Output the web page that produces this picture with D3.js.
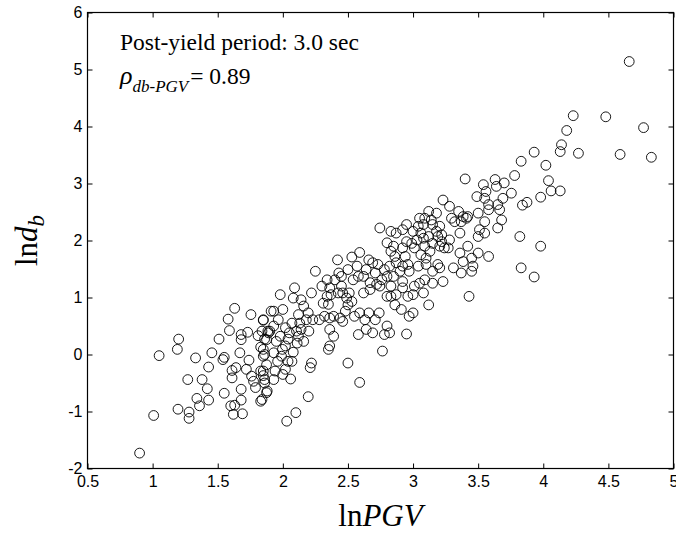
<!DOCTYPE html>
<html><head><meta charset="utf-8">
<script src="https://cdn.jsdelivr.net/npm/d3@7"></script>
<style>body{margin:0;background:#fff}svg{display:block}</style>
</head><body>
<svg id="chart" width="676" height="533"></svg>
<script>
// ln PGV (x) values
const lnPGV = [
  0.90,1.008,1.05,1.195,1.20,1.19,1.28,1.28,1.27,1.33,
  1.34,1.36,1.38,1.42,1.43,1.43,1.455,1.51,1.54,1.55,
  1.55,1.58,1.59,1.63,1.60,1.63,1.62,1.69,1.68,1.68,
  1.61,1.61,1.64,1.67,1.68,1.68,1.73,1.755,1.74,1.72,
  1.76,1.775,1.79,1.83,1.81,1.85,1.83,1.85,1.83,1.85,
  1.86,1.88,1.86,1.885,1.91,
  1.84,1.875,1.86,1.93,1.94,1.85,2.02,2.06,2.07,1.96,
  1.86,1.997,2.08,2.11,2.16,2.04,1.95,1.89,1.84,1.93,
  2.02,2.07,2.105,2.13,2.12,2.16,2.14,2.08,2.00,1.93,
  1.85,1.98,2.09,2.22,2.20,2.18,2.23,2.195,2.30,2.25,
  2.34,2.31,2.37,2.35,2.32,2.36,2.39,2.28,2.36,2.39,
  2.35,2.36,2.22,2.21,2.195,2.10,2.03,2.42,2.43,2.40,
  2.45,2.45,2.425,2.46,2.49,2.51,2.53,2.50,2.48,2.44,
  2.46,2.53,2.59,2.57,2.50,2.54,2.58,2.55,2.59,2.63,
  2.66,2.64,2.58,2.69,2.71,2.74,2.80,2.78,2.82,2.765,
  2.50,2.59,2.66,2.64,2.62,2.69,2.73,2.71,2.67,2.72,
  2.76,2.78,2.82,2.80,2.85,2.83,2.80,2.83,2.86,2.87,
  2.745,2.83,2.87,2.80,2.85,2.83,2.86,2.87,2.745,2.67,
  2.62,2.36,2.34,1.90,1.875,1.965,1.98,2.02,2.05,2.12,
  2.14,1.85,1.93,1.99,2.04,1.875,2.00,
  3.83,3.40,3.54,3.63,3.64,3.70,3.78,3.755,3.69,3.65,
  3.665,3.56,3.55,3.58,3.58,3.49,3.50,3.55,3.68,3.65,
  3.55,3.50,3.82,3.83,3.23,3.28,3.35,3.385,3.41,3.42,
  3.37,3.32,3.295,3.36,3.18,3.12,3.09,3.05,3.14,3.15,
  3.205,3.18,3.08,3.04,2.95,2.92,3.00,3.06,3.12,3.19,
  3.22,3.27,3.205,3.15,3.08,3.03,2.99,2.95,2.92,3.01,
  3.09,3.13,3.06,3.10,2.94,2.96,2.92,2.90,2.97,3.04,
  3.10,3.19,3.205,3.15,3.09,3.15,3.23,3.05,3.01,3.08,
  2.92,2.92,3.00,2.96,3.12,2.91,3.00,2.97,2.95,3.36,
  3.42,3.50,3.58,3.385,3.45,3.46,3.31,3.37,3.45,3.24,
  3.28,3.22,3.43,3.51,
  4.66,4.23,4.48,4.77,4.18,4.14,4.13,4.27,4.59,4.83,
  3.93,4.02,4.04,4.06,4.13,3.98,3.875,3.84,3.98,3.93
];
// ln d_b (y) values
const lnDb = [
  -1.73,-1.07,-0.02,-0.96,0.27,0.09,-1.01,-1.12,-0.44,-0.06,
  -0.77,-0.90,-0.44,-0.60,-0.80,-0.22,0.03,0.27,-0.09,-0.05,
  -0.68,0.62,0.42,0.81,-0.90,-0.89,-1.05,-1.04,-0.80,-0.61,
  -0.41,-0.28,-0.23,0.03,0.26,0.35,0.39,0.70,-0.10,-0.26,
  -0.38,-0.47,-0.58,-0.82,0.33,0.60,0.13,-0.03,-0.29,-0.37,
  -0.50,-0.64,0.27,0.41,0.76,
  -0.79,-0.67,-0.44,-0.44,-0.29,-0.29,-0.26,-0.43,-0.12,-0.12,
  0.00,0.09,0.04,0.20,0.23,0.27,0.23,0.38,0.41,0.50,
  0.47,0.55,0.41,0.55,0.70,0.85,0.96,0.99,0.79,0.76,
  0.61,1.05,1.17,1.08,0.41,0.61,0.61,0.73,1.20,1.46,
  1.02,0.90,1.05,0.88,0.67,0.64,0.67,0.61,0.44,0.32,
  0.09,0.15,-0.15,-0.23,-0.74,-1.02,-1.17,1.66,1.43,1.31,
  1.37,1.20,1.08,1.08,0.99,1.08,0.93,0.87,0.76,0.64,
  0.58,1.71,1.79,1.55,1.49,1.31,1.37,0.67,0.73,0.61,
  0.73,0.44,0.35,0.38,0.61,0.73,0.50,0.35,0.38,0.06,
  -0.15,-0.49,1.66,1.49,1.37,1.61,1.58,1.43,1.26,1.23,
  1.31,1.49,1.55,1.37,1.37,1.20,1.02,1.02,0.87,1.05,
  2.22,2.16,2.13,1.96,1.90,1.81,1.72,1.61,1.20,1.14,
  1.08,1.17,1.31,0.41,0.26,0.61,0.32,0.15,0.38,0.32,
  0.44,0.09,0.03,-0.03,-0.12,-0.18,-0.35,
  3.39,3.08,2.98,3.07,2.95,3.01,3.14,2.83,2.74,2.63,
  2.54,2.86,2.74,2.63,2.54,2.77,2.48,2.33,2.36,2.22,
  2.13,2.07,2.07,1.52,2.71,2.60,2.51,2.42,2.39,2.42,
  2.33,2.33,2.39,2.13,2.48,2.51,2.39,2.39,2.36,2.28,
  2.25,2.16,2.28,2.25,2.28,2.19,2.16,2.13,2.07,2.07,
  1.98,1.87,1.90,1.95,2.04,2.01,1.95,1.98,1.87,1.87,
  1.90,1.81,1.75,1.69,1.72,1.58,1.55,1.46,1.46,1.55,
  1.58,1.58,1.52,1.46,1.31,1.25,1.28,1.25,1.20,1.08,
  1.28,1.17,1.05,1.02,0.87,0.79,0.73,0.67,0.36,1.78,
  1.90,1.78,1.72,1.63,1.69,1.55,1.52,1.43,1.46,1.87,
  2.01,2.10,1.02,2.19,
  5.14,4.19,4.17,3.98,3.93,3.68,3.56,3.53,3.51,3.46,
  3.55,3.32,3.05,2.87,2.87,2.76,2.67,2.62,1.90,1.36
];
const xTicks = [0.5, 1, 1.5, 2, 2.5, 3, 3.5, 4, 4.5, 5];
const yTicks = [-2, -1, 0, 1, 2, 3, 4, 5, 6];
const xDomain = [0.5, 5];
const yDomain = [-2, 6];

const svg = d3.select('#chart');
const L = 87.5, R = 673.5, T = 12.5, B = 468.5;
const x = d3.scaleLinear().domain(xDomain).range([L, R]);
const y = d3.scaleLinear().domain(yDomain).range([B, T]);
const tickFont = '"Liberation Sans", Arial, Helvetica, sans-serif';
const serif = '"Liberation Serif", "Times New Roman", serif';

function styleAxis(g) {
  g.select('.domain').remove();
  g.selectAll('line').attr('stroke', '#000').attr('stroke-width', 1);
  g.selectAll('text').attr('font-family', tickFont).attr('font-size', 16).attr('fill', '#000');
}
const fmt = d => String(d);
svg.append('g').attr('transform', `translate(0,${B})`)
  .call(d3.axisBottom(x).tickValues(xTicks).tickFormat(fmt).tickSizeInner(-5).tickSizeOuter(0).tickPadding(7))
  .call(styleAxis);
svg.append('g').attr('transform', `translate(0,${T})`)
  .call(d3.axisTop(x).tickValues(xTicks).tickFormat('').tickSizeInner(-5).tickSizeOuter(0))
  .call(styleAxis);
svg.append('g').attr('transform', `translate(${L},0)`)
  .call(d3.axisLeft(y).tickValues(yTicks).tickFormat(fmt).tickSizeInner(-5).tickSizeOuter(0).tickPadding(5))
  .call(styleAxis);
svg.append('g').attr('transform', `translate(${R},0)`)
  .call(d3.axisRight(y).tickValues(yTicks).tickFormat('').tickSizeInner(-5).tickSizeOuter(0))
  .call(styleAxis);
svg.append('rect').attr('x', L).attr('y', T).attr('width', R - L).attr('height', B - T)
  .attr('fill', 'none').attr('stroke', '#000').attr('stroke-width', 1.2);

svg.append('g').selectAll('circle').data(lnPGV.map((v, i) => [v, lnDb[i]])).join('circle')
  .attr('cx', d => x(d[0])).attr('cy', d => y(d[1])).attr('r', 4.9)
  .attr('fill', 'none').attr('stroke', '#000').attr('stroke-width', 0.9);

// annotations
svg.append('text').attr('x', 120).attr('y', 50).attr('font-family', serif).attr('font-size', 23.5)
  .text('Post-yield period: 3.0 sec');
const rho = svg.append('text').attr('x', 120).attr('y', 83.5).attr('font-family', serif).attr('font-size', 23.5);
rho.append('tspan').attr('font-style', 'italic').attr('font-size', 26).text('ρ');
rho.append('tspan').attr('font-style', 'italic').attr('font-size', 17).attr('dy', 8).text('db-PGV');
rho.append('tspan').attr('dy', -8).attr('dx', 2).text('= 0.89');

// axis titles
const xt = svg.append('text').attr('x', (L + R) / 2).attr('y', 526).attr('text-anchor', 'middle')
  .attr('font-family', serif).attr('font-size', 31);
xt.append('tspan').text('ln');
xt.append('tspan').attr('font-style', 'italic').text('PGV');

const yt = svg.append('text').attr('transform', `translate(37,${(T + B) / 2}) rotate(-90)`)
  .attr('text-anchor', 'middle').attr('font-family', serif).attr('font-size', 31);
yt.append('tspan').text('ln');
yt.append('tspan').attr('font-style', 'italic').text('d');
yt.append('tspan').attr('font-style', 'italic').attr('font-size', 23).attr('dy', 7).text('b');
</script>
</body></html>
